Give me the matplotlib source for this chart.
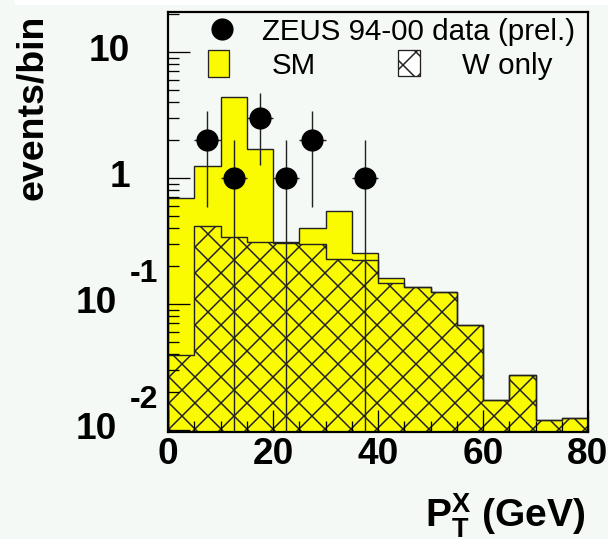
import math
import matplotlib
matplotlib.use("Agg")
import matplotlib.pyplot as plt
from matplotlib.patches import Rectangle
from matplotlib.ticker import LogLocator, MultipleLocator, NullFormatter

# bins in P_T^X (GeV)
edges = [0, 5, 10, 15, 20, 25, 30, 35, 40, 45, 50, 55, 60, 65, 70, 75, 80]
# SM expectation (events/bin)
sm = [0.69, 1.23, 4.37, 1.70, 0.309, 0.399, 0.55, 0.252, 0.160, 0.136,
      0.124, 0.068, 0.0171, 0.0272, 0.0119, 0.0124]
# W only contribution
w_only = [0.039, 0.418, 0.338, 0.309, 0.303, 0.298, 0.226, 0.221, 0.146, 0.136,
          0.124, 0.068, 0.0171, 0.0272, 0.0119, 0.0124]
# ZEUS data points
data_x = [7.5, 12.5, 17.5, 22.5, 27.5, 37.5]
data_n = [2, 1, 3, 1, 2, 1]
err_up = [1.41, 1.0, 1.73, 1.0, 1.41, 1.0]
err_lo = [1.41, 0.995, 1.73, 0.995, 1.41, 0.995]
xerr = [2.5, 2.5, 2.5, 2.5, 2.5, 2.5]

yticks = [0.01, 0.1, 1, 10]

DPI = 156
px = 72 / DPI  # points per pixel
bg = "#f5f9f5"
yellow = "#fafa00"

plt.rcParams["font.family"] = ["Liberation Sans", "DejaVu Sans"]
plt.rcParams["mathtext.fontset"] = "custom"
plt.rcParams["mathtext.rm"] = "Liberation Sans"
plt.rcParams["mathtext.bf"] = "Liberation Sans:bold"
plt.rcParams["mathtext.it"] = "Liberation Sans:italic"
plt.rcParams["hatch.linewidth"] = 1.5 * px
plt.rcParams["hatch.color"] = "#1e1e00"

fig = plt.figure(figsize=(608 / DPI, 539 / DPI), dpi=DPI, facecolor=bg)
ax = fig.add_axes([168 / 608, 1 - 432 / 539, 420 / 608, 420 / 539])
ax.set_facecolor(bg)
fig.add_artist(Rectangle((15 / 608, 1 - 5 / 539), 1, 5 / 539,
                         transform=fig.transFigure, color="white", lw=0))

# SM histogram
ax.stairs(sm, edges, baseline=1e-4, fill=True, facecolor=yellow, edgecolor="none")
ax.stairs(sm, edges, baseline=1e-4, color="#222222", lw=1.4 * px)
# W only (hatched)
ax.stairs(w_only, edges, baseline=1e-4, fill=True, facecolor="none",
          edgecolor="#222222", hatch="xx", lw=1.4 * px)

# data
ax.errorbar(data_x, data_n, yerr=[err_lo, err_up], xerr=xerr, fmt="o",
            color="black", ecolor="#222222", elinewidth=1.4 * px,
            markersize=20 * px, capsize=0, zorder=5)

ax.set_yscale("log")
ax.set_xlim(0, 80)
ax.set_ylim(0.0096, 20.7)

for s in ax.spines.values():
    s.set_linewidth(2.2 * px)
    s.set_color("black")

ax.xaxis.set_major_locator(MultipleLocator(20))
ax.xaxis.set_minor_locator(MultipleLocator(5))
ax.yaxis.set_major_locator(LogLocator(base=10))
ax.yaxis.set_minor_locator(LogLocator(base=10, subs=range(2, 10)))
ax.yaxis.set_major_formatter(NullFormatter())
ax.yaxis.set_minor_formatter(NullFormatter())
ax.tick_params(which="both", direction="in", top=False, right=False,
               width=1.3 * px, color="black")
ax.tick_params(which="major", length=22 * px)
ax.tick_params(which="minor", length=11 * px)
ax.tick_params(axis="x", labelsize=37 * px, pad=5 * px)
for lab in ax.get_xticklabels():
    lab.set_fontweight("bold")

# y tick labels in ROOT style
ytr = ax.get_yaxis_transform()
for v in yticks:
    if v >= 1:
        ax.text(-0.09, v, "%d" % v, transform=ytr, ha="right", va="center",
                fontsize=37 * px, fontweight="bold")
    else:
        ax.text(-0.121, v, "10", transform=ytr, ha="right", va="center",
                fontsize=37 * px, fontweight="bold")
        ax.annotate("%d" % round(math.log10(v)), xy=(-0.024, v),
                    xycoords=ytr, xytext=(0, 30 * px), textcoords="offset points",
                    ha="right", va="center", fontsize=32 * px, fontweight="bold")

# legend
ax.plot([0.1286], [0.9595], "o", color="black", markersize=20 * px,
        transform=ax.transAxes, clip_on=False)
ax.text(0.2238, 0.9333, "ZEUS 94-00 data (prel.)", transform=ax.transAxes,
        fontsize=29.5 * px, va="baseline", ha="left")
ax.add_patch(Rectangle((0.0952, 0.8452), 0.05, 0.0643, transform=ax.transAxes,
                       facecolor=yellow, edgecolor="#222222", lw=1.3 * px))
ax.text(0.2476, 0.8524, "SM", transform=ax.transAxes, fontsize=29.5 * px,
        va="baseline", ha="left")
ax.add_patch(Rectangle((0.5476, 0.8476), 0.0524, 0.0619, transform=ax.transAxes,
                       facecolor="white", edgecolor="#222222", hatch="xx", lw=1.3 * px))
ax.text(0.6993, 0.8524, "W only", transform=ax.transAxes, fontsize=29.5 * px,
        va="baseline", ha="left")

# axis titles
fig.text(33 / 608, 1 - 15 / 539, "events/bin", rotation=90, ha="center", va="top",
         fontsize=37.5 * px, fontweight="bold")
fig.text(585 / 608, 1 - 527 / 539, r"$\mathbf{P_{T}^{X}}$ (GeV)", ha="right",
         va="baseline", fontsize=39 * px, fontweight="bold")

fig.savefig("out.png", dpi=DPI, facecolor=bg)
